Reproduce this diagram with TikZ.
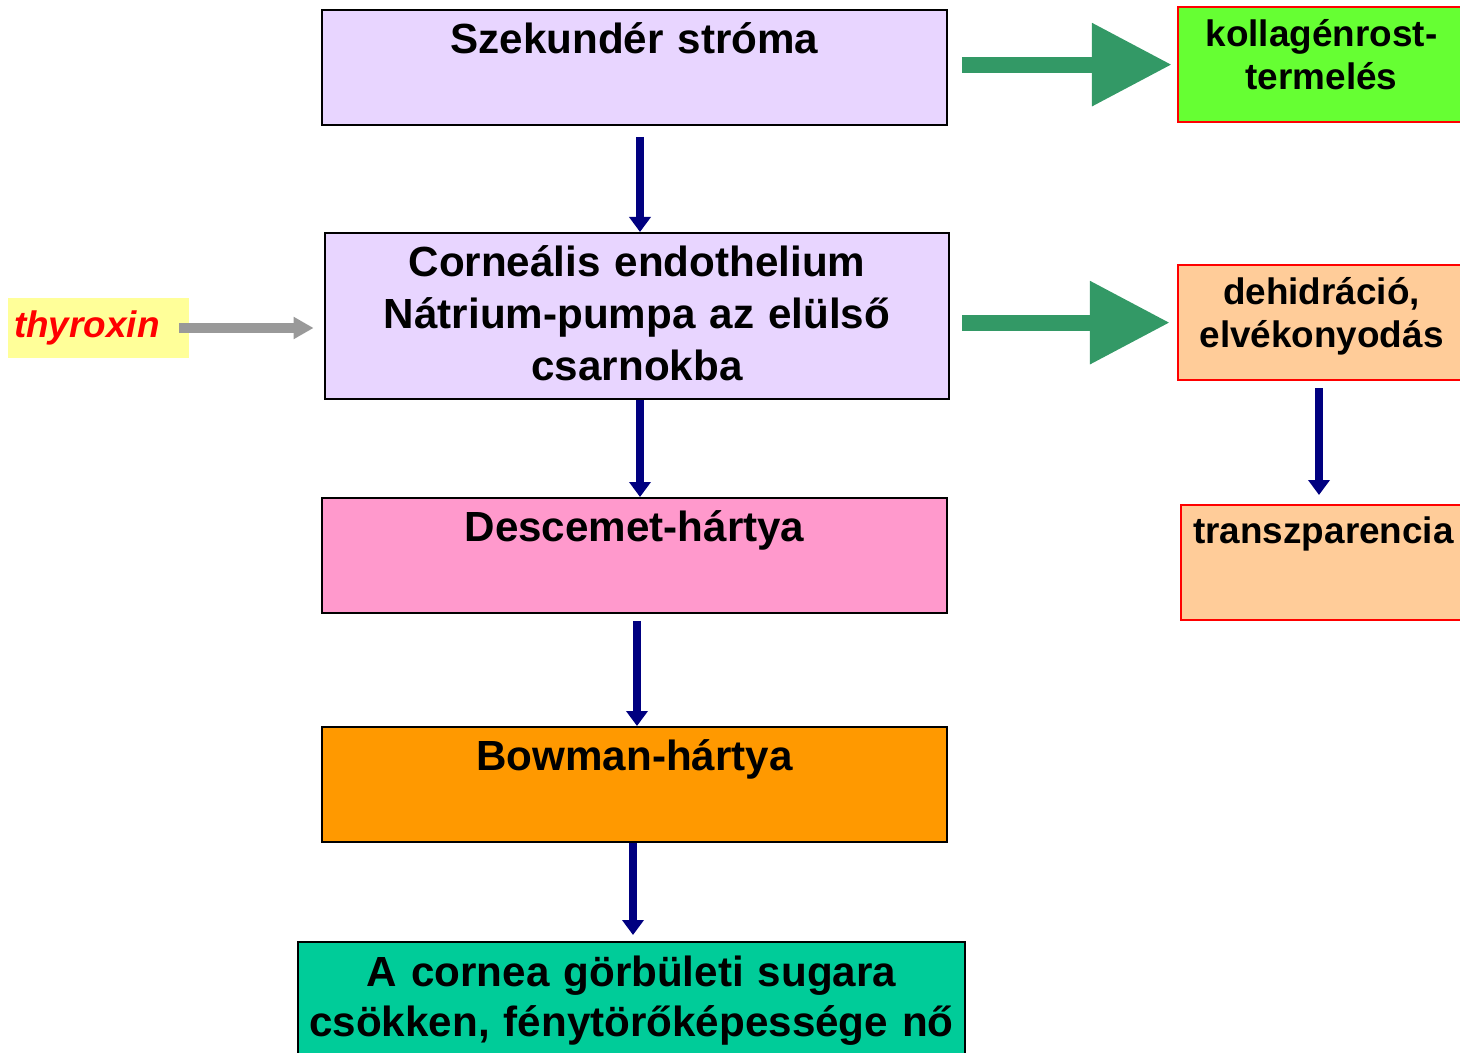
\documentclass[tikz,border=0pt]{standalone}
\usepackage{fontspec}
\setmainfont{Liberation Sans}
\usetikzlibrary{arrows.meta}
\definecolor{lavender}{HTML}{E8D5FF}
\definecolor{pinkbox}{HTML}{FF99CC}
\definecolor{orangebox}{HTML}{FF9900}
\definecolor{tealbox}{HTML}{00CC99}
\definecolor{limebox}{HTML}{66FF33}
\definecolor{peachbox}{HTML}{FFCC99}
\definecolor{paleyellow}{HTML}{FFFF99}
\definecolor{navyblue}{HTML}{000080}
\definecolor{arrowgreen}{HTML}{339966}
\definecolor{arrowgray}{HTML}{999999}

\begin{document}
\begin{tikzpicture}[x=0.02cm, y=-0.02cm,
  box/.style={draw=black, line width=1.1pt, inner sep=0pt, align=center, text width=12.5cm,
    text height=0.88cm, text depth=1.42cm, font=\bfseries\fontsize{24}{29.5}\selectfont, anchor=north},
  sidebox/.style={draw=red, line width=1.3pt, fill=peachbox, inner sep=0pt, align=center, text width=5.74cm,
    text height=0.78cm, text depth=1.52cm, font=\bfseries\fontsize{21}{24.9}\selectfont, anchor=north},
  down/.style={draw=navyblue, line width=0.17cm, -{Triangle[length=0.3cm,width=0.42cm]}},
  bigarrow/.style={draw=arrowgreen, line width=0.32cm, -{Triangle[length=1.6cm,width=1.58cm]}},
]
\clip (0,0) rectangle (1460,1053);
% Define the main column
\node[box, fill=lavender] at (634.5,9) (sz) {Szekundér stróma};
\node[box, fill=lavender, text depth=2.44cm] at (637,232) (endo) {Corneális endothelium\\Nátrium-pumpa az elülső\\csarnokba};
\node[box, fill=pinkbox] at (634.5,497) (desc) {Descemet-hártya};
\node[box, fill=orangebox] at (634.5,726) (bow) {Bowman-hártya};
\node[box, fill=tealbox, text width=13.34cm, text height=0.9cm, text depth=1.7cm,
  font=\bfseries\fontsize{24}{28.4}\selectfont] at (631.5,941) (cornea) {A cornea görbületi sugara\\csökken, fénytörőképessége nő};
% Side boxes
\node[sidebox, fill=limebox] at (1321.5,6) (kol) {kollagénrost-\\termelés};
\node[sidebox] at (1321.5,264) (deh) {dehidráció,\\elvékonyodás};
\node[sidebox, text width=5.7cm, text height=0.76cm, text depth=1.54cm] at (1323.5,504) (transz) {transzparencia};
\node[fill=paleyellow, minimum height=1.2cm, text width=3.38cm, inner xsep=0.12cm, align=left,
  text=red, font=\bfseries\itshape\fontsize{21}{25}\selectfont] at (98.5,328) (thy) {thyroxin};
% Draw the arrows
\draw[down, shorten <=0.22cm] ([xshift=0.11cm]sz.south) -- ([xshift=0.11cm]sz.south |- endo.north);
\draw[down] ([xshift=0.06cm]endo.south) -- ([xshift=0.06cm]endo.south |- desc.north);
\draw[down, shorten <=0.14cm] ([xshift=0.05cm]desc.south) -- ([xshift=0.05cm]desc.south |- bow.north);
\draw[down, shorten >=0.12cm] ([xshift=-0.03cm]bow.south) -- ([xshift=-0.03cm]bow.south |- cornea.north);
\draw[down, shorten <=0.14cm, shorten >=0.18cm] ([xshift=-0.05cm]deh.south) -- ([xshift=-0.05cm]deh.south |- transz.north);
\draw[bigarrow, shorten <=0.28cm, shorten >=0.1cm] (sz.east |- kol.west) -- (kol.west);
\draw[bigarrow, shorten <=0.24cm, shorten >=0.14cm] (endo.east |- deh.west) -- (deh.west);
\draw[draw=arrowgray, line width=0.2cm, -{Triangle[length=0.4cm,width=0.42cm]}, shorten >=0.2cm]
  ([xshift=-0.2cm]thy.east) -- (thy.east -| endo.west);
\end{tikzpicture}
\end{document}
